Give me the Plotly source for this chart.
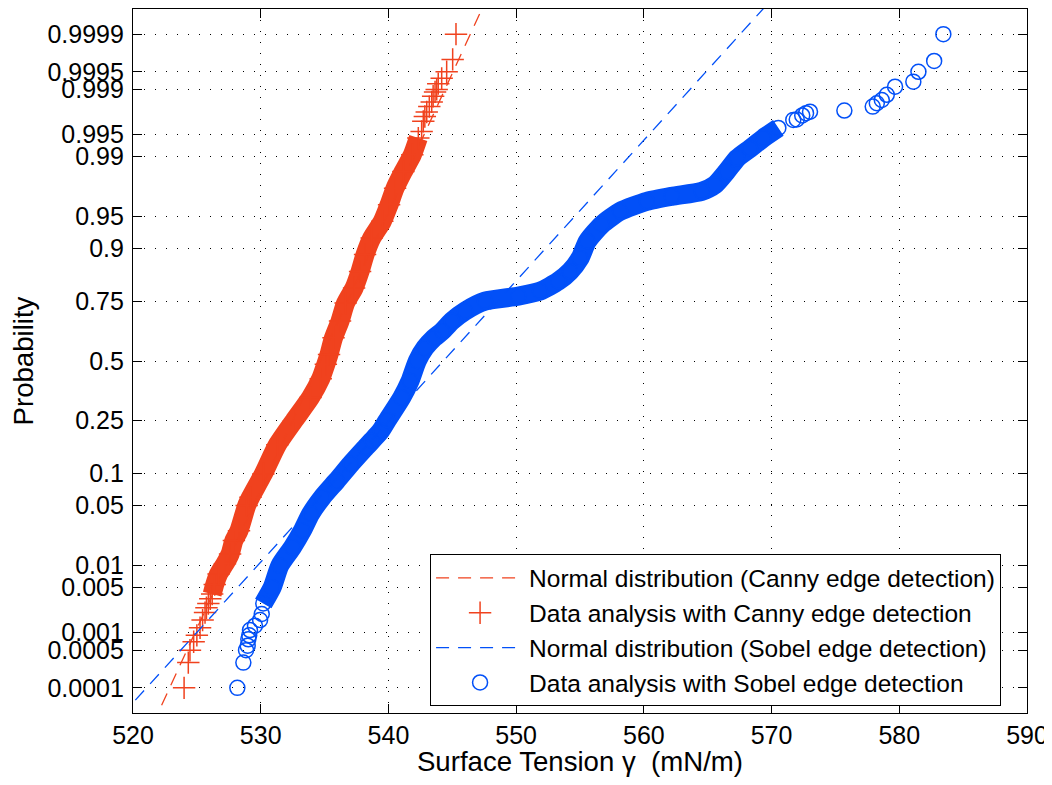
import plotly.graph_objects as go
from statistics import NormalDist

nd = NormalDist()

# ---- data (surface tension in mN/m, cumulative probability) ----
canny_x = [524.0, 524.33, 524.46, 524.75, 525.0, 525.25, 525.45, 525.64, 525.75, 525.9,
           526.05, 526.2, 526.4, 526.7, 527.2, 527.6, 527.9, 528.3, 528.9, 529.2,
           530.2, 531.3, 532.6, 533.9, 534.7, 535.1, 535.35, 535.7, 536.21, 536.65,
           537.31, 537.78, 538.17, 538.69, 539.52, 540.05, 540.52, 541.17, 541.87, 542.34,
           542.6, 542.73, 542.85, 543.0, 543.2, 543.39, 543.5, 543.65, 543.78, 543.9,
           544.17, 544.56, 545.03, 545.29]
canny_p = [0.0001, 0.0003, 0.0005, 0.0007, 0.0009, 0.0012, 0.0016, 0.0021, 0.0025, 0.0029,
           0.0034, 0.004, 0.0055, 0.0077, 0.0105, 0.014, 0.0205, 0.0268, 0.05, 0.0604,
           0.0993, 0.17, 0.248, 0.339, 0.42, 0.485, 0.53, 0.604, 0.675, 0.745,
           0.797, 0.846, 0.887, 0.919, 0.944, 0.9623, 0.9754, 0.9845, 0.9905, 0.9944,
           0.9955, 0.9968, 0.9973, 0.9977, 0.9981, 0.9984, 0.9987, 0.9989, 0.9990, 0.9992,
           0.99935, 0.9995, 0.9997, 0.9999]

sobel_x = [528.17, 528.64, 528.85, 528.98, 529.03, 529.1, 529.16, 529.55, 529.95, 530.08,
           530.2, 530.9, 531.5, 532.48, 533.26, 533.91, 534.82, 535.95, 537.05, 538.22,
           538.7, 539.4, 539.91, 541.04, 541.69, 542.26, 542.87, 543.57, 544.22, 544.96,
           546.0, 547.56, 550.17, 551.87, 553.3, 554.22, 555.0, 555.58, 556.7, 558.14,
           560.23, 562.18, 564.53, 565.57, 566.49, 567.32, 568.32, 569.36, 570.53, 571.7,
           571.97, 572.4, 572.7, 573.01, 575.7, 577.92, 578.24, 578.63, 579.02, 579.67,
           581.1, 581.5, 582.73, 583.45]
sobel_p = [0.0001, 0.0003, 0.0005, 0.0006, 0.00077, 0.0009, 0.0011, 0.0013, 0.0016, 0.002,
           0.0029, 0.005, 0.01, 0.017, 0.0269, 0.041, 0.0605, 0.0866, 0.1206, 0.1626,
           0.182, 0.2135, 0.25, 0.3385, 0.41, 0.5, 0.56, 0.604, 0.633, 0.675,
           0.715, 0.752, 0.7697, 0.7865, 0.818, 0.846, 0.879, 0.9134, 0.9396, 0.9557,
           0.9653, 0.9695, 0.9732, 0.9775, 0.9845, 0.9895, 0.9922, 0.9944, 0.996, 0.99696,
           0.9970, 0.9974, 0.9976, 0.99772, 0.99781, 0.9981, 0.99832, 0.99851, 0.99877, 0.9991,
           0.99926, 0.9995, 0.99968, 0.9999]

# fitted normal distributions (mean, standard deviation)
canny_fit = [534.64, 3.165]
sobel_fit = [544.3, 6.25]

prob_ticks = [0.0001, 0.0005, 0.001, 0.005, 0.01, 0.05, 0.1, 0.25, 0.5,
              0.75, 0.9, 0.95, 0.99, 0.995, 0.999, 0.9995, 0.9999]
prob_labels = ["0.0001", "0.0005", "0.001", "0.005", "0.01", "0.05", "0.1", "0.25", "0.5",
               "0.75", "0.9", "0.95", "0.99", "0.995", "0.999", "0.9995", "0.9999"]
x_ticks = [520, 530, 540, 550, 560, 570, 580, 590]

# dense (continuous-looking) ranges of the marker clouds
canny_dense = [0.004, 0.9944]
sobel_dense = [0.0029, 0.996]

RED = "#F0421E"
BLUE = "#0250F8"
FONT = "Liberation Sans, Arial, Helvetica, sans-serif"


def probit(ps):
    return [nd.inv_cdf(p) for p in ps]


def fit_line(fit):
    zs = [-4.6, 4.6]
    return [fit[0] + fit[1] * z for z in zs], zs


def dense(xs, ps, rng):
    sel = [(x, p) for x, p in zip(xs, ps) if rng[0] <= p <= rng[1]]
    return [s[0] for s in sel], probit([s[1] for s in sel])


fig = go.Figure()

# bands formed by heavily overlapping markers
cdx, cdz = dense(canny_x, canny_p, canny_dense)
fig.add_trace(go.Scatter(x=cdx, y=cdz, mode="lines", showlegend=False, hoverinfo="skip",
                         line=dict(color=RED, width=19, shape="spline", smoothing=0.6)))
sdx, sdz = dense(sobel_x, sobel_p, sobel_dense)
fig.add_trace(go.Scatter(x=sdx, y=sdz, mode="lines", showlegend=False, hoverinfo="skip",
                         line=dict(color=BLUE, width=19, shape="spline", smoothing=0.6)))

fx, fz = fit_line(canny_fit)
fig.add_trace(go.Scatter(x=fx, y=fz, mode="lines",
                         name="Normal distribution (Canny edge detection)",
                         line=dict(color=RED, width=1.3, dash="13px,9px")))
fig.add_trace(go.Scatter(x=canny_x, y=probit(canny_p), mode="markers",
                         name="Data analysis with Canny edge detection",
                         marker=dict(symbol="cross-thin", size=16, color=RED,
                                     line=dict(color=RED, width=1.5))))
fx, fz = fit_line(sobel_fit)
fig.add_trace(go.Scatter(x=fx, y=fz, mode="lines",
                         name="Normal distribution (Sobel edge detection)",
                         line=dict(color=BLUE, width=1.3, dash="13px,9px")))
fig.add_trace(go.Scatter(x=sobel_x, y=probit(sobel_p), mode="markers",
                         name="Data analysis with Sobel edge detection",
                         marker=dict(symbol="circle-open", size=15, color=BLUE,
                                     line=dict(color=BLUE, width=1.5))))

fig.update_layout(
    width=1044, height=769,
    margin=dict(l=125, r=25, t=0, b=63),
    paper_bgcolor="white", plot_bgcolor="white",
    font=dict(family=FONT, size=25, color="black"),
    showlegend=True,
    legend=dict(x=0.971, xanchor="right", y=0.2252, yanchor="top",
                bgcolor="white", bordercolor="black", borderwidth=1,
                font=dict(size=24.5), itemwidth=88, tracegroupgap=0),
)

fig.update_xaxes(
    range=[520, 590], tickvals=x_ticks, ticktext=[str(v) for v in x_ticks],
    tickfont=dict(size=25), ticklabeloverflow="allow",
    showgrid=True, gridcolor="black", gridwidth=1, griddash="1px,10px",
    showline=True, linecolor="black", linewidth=1.2, mirror="ticks",
    ticks="inside", ticklen=9, tickcolor="black", zeroline=False,
    title=dict(text="Surface Tension \u03b3\u00a0 (mN/m)", standoff=9, font=dict(size=27.6)),
)
fig.update_yaxes(
    range=[-4.005, 4.005], tickvals=probit(prob_ticks), ticktext=prob_labels,
    tickfont=dict(size=25), ticklabelstandoff=3,
    showgrid=True, gridcolor="black", gridwidth=1, griddash="1px,10px",
    showline=True, linecolor="black", linewidth=1.2, mirror="ticks",
    ticks="inside", ticklen=9, tickcolor="black", zeroline=False,
    title=dict(text="Probability", standoff=8, font=dict(size=27.6)),
)

fig.write_html("out.html")
